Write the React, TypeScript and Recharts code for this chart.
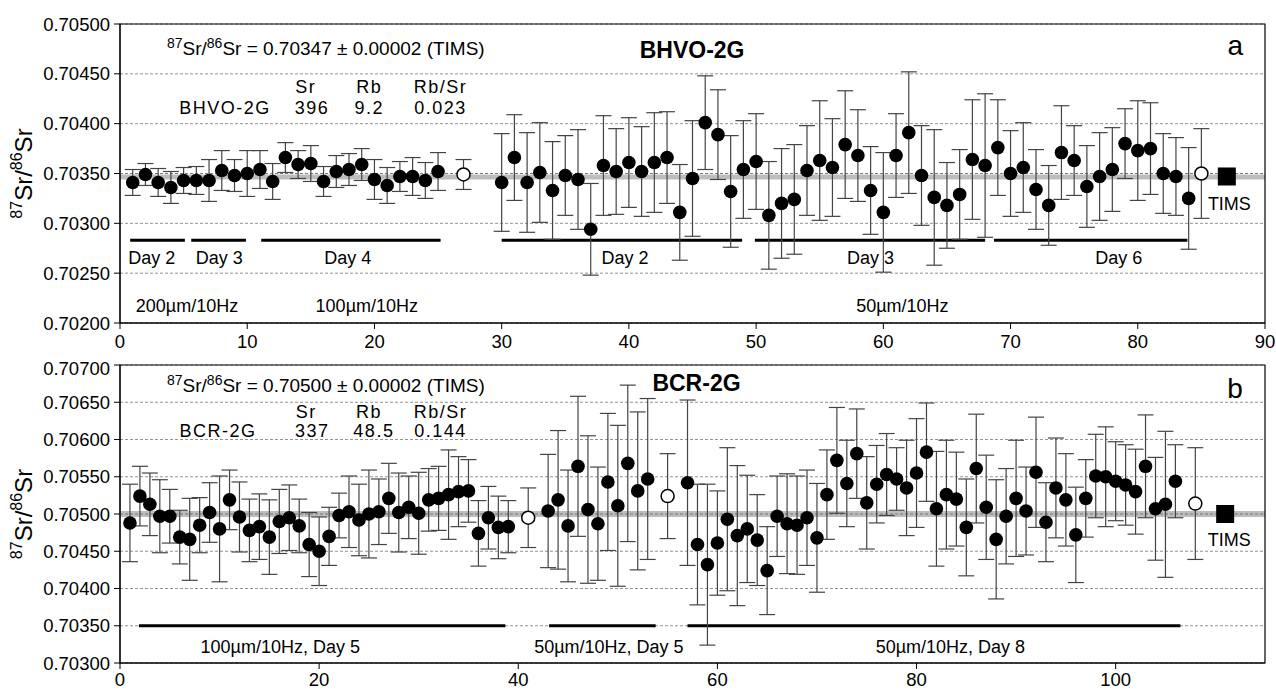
import React from 'react';
import {
  ScatterChart,
  Scatter,
  XAxis,
  YAxis,
  CartesianGrid,
  ErrorBar,
  ReferenceArea,
  ReferenceLine,
  ReferenceDot,
} from 'recharts';

// ---- panel a: BHVO-2G ----
const bhvoX = [
  1, 2, 3, 4, 5, 6, 7, 8, 9, 10, 11, 12, 13, 14, 15, 16, 17, 18, 19, 20, 21, 22, 23, 24, 25,
  30, 31, 32, 33, 34, 35, 36, 37, 38, 39, 40, 41, 42, 43, 44, 45, 46, 47, 48, 49, 50, 51, 52, 53, 54, 55, 56, 57,
  58, 59, 60, 61, 62, 63, 64, 65, 66, 67, 68, 69, 70, 71, 72, 73, 74, 75, 76, 77, 78, 79, 80, 81, 82, 83, 84,
];
const bhvoRatio = [
  0.70341, 0.70349, 0.70341, 0.70336, 0.70343, 0.70343, 0.70343, 0.70353, 0.70348, 0.7035, 0.70354, 0.70342,
  0.70366, 0.70359, 0.7036, 0.70342, 0.70352, 0.70354, 0.70359, 0.70344, 0.70338, 0.70347, 0.70347, 0.70343,
  0.70352,
  0.70341, 0.70366, 0.70341, 0.70351, 0.70333, 0.70348, 0.70344, 0.70294, 0.70358, 0.70352, 0.70361, 0.70352,
  0.70361, 0.70366, 0.70311, 0.70345, 0.70401, 0.70389, 0.70332, 0.70354, 0.70362, 0.70308, 0.7032, 0.70324,
  0.70353, 0.70363, 0.70356, 0.70379, 0.70368, 0.70333, 0.70311, 0.70368, 0.70391, 0.70348, 0.70326, 0.70318,
  0.70329, 0.70364, 0.70358, 0.70376, 0.7035, 0.70356, 0.70334, 0.70318, 0.70371, 0.70363, 0.70337, 0.70347,
  0.70354, 0.7038, 0.70373, 0.70375, 0.7035, 0.70347, 0.70325,
];
const bhvoErr = [
  0.00013, 0.00011, 0.00014, 0.00016, 0.00013, 0.00014, 0.00021, 0.0002, 0.00016, 0.00023, 0.00019, 0.00018,
  0.00015, 0.00014, 0.00018, 0.00015, 0.00016, 0.00016, 0.00016, 0.0002, 0.00018, 0.00015, 0.00019, 0.00018,
  0.00019,
  0.00049, 0.00043, 0.0005, 0.0005, 0.00049, 0.0004, 0.0005, 0.00046, 0.0005, 0.00043, 0.00045, 0.00045,
  0.0005, 0.00046, 0.00048, 0.00058, 0.00047, 0.00045, 0.00056, 0.00049, 0.00048, 0.00054, 0.00055, 0.00055,
  0.00045, 0.0006, 0.00049, 0.00054, 0.00046, 0.00044, 0.0006, 0.00042, 0.00061, 0.0005, 0.00068, 0.00043,
  0.00045, 0.0006, 0.00072, 0.00048, 0.00043, 0.00045, 0.0004, 0.0004, 0.00047, 0.00035, 0.00041, 0.00044,
  0.00042, 0.00035, 0.0005, 0.00046, 0.0004, 0.00039, 0.00051,
];
const bhvoOpenX = [27, 85];
const bhvoOpenRatio = [0.70349, 0.7035];
const bhvoOpenErr = [0.00015, 0.00045];
const bhvoTims = 0.70347;

// ---- panel b: BCR-2G ----
const bcrX = [
  1, 2, 3, 4, 5, 6, 7, 8, 9, 10, 11, 12, 13, 14, 15, 16, 17, 18, 19, 20, 21, 22, 23, 24, 25, 26, 27, 28, 29, 30,
  31, 32, 33, 34, 35, 36, 37, 38, 39,
  43, 44, 45, 46, 47, 48, 49, 50, 51, 52, 53,
  57, 58, 59, 60, 61, 62, 63, 64, 65, 66, 67, 68, 69, 70, 71, 72, 73, 74, 75, 76, 77, 78, 79, 80, 81, 82, 83,
  84, 85, 86, 87, 88, 89, 90, 91, 92, 93, 94, 95, 96, 97, 98, 99, 100, 101, 102, 103, 104, 105, 106,
];
const bcrRatio = [
  0.70488, 0.70524, 0.70513, 0.70497, 0.70497, 0.70469, 0.70466, 0.70485, 0.70502, 0.7048, 0.70519, 0.70496,
  0.70478, 0.70483, 0.70469, 0.7049, 0.70495, 0.70484, 0.70459, 0.7045, 0.7047, 0.70498, 0.70503, 0.70492,
  0.705, 0.70503, 0.70521, 0.70502, 0.70509, 0.70501, 0.70519, 0.70521, 0.70526, 0.7053, 0.70531, 0.70474,
  0.70495, 0.70482, 0.70483,
  0.70504, 0.70519, 0.70484, 0.70564, 0.70506, 0.70487, 0.70543, 0.70511, 0.70568, 0.70531, 0.70547,
  0.70542, 0.70459, 0.70432, 0.70461, 0.70493, 0.70471, 0.7048, 0.70465, 0.70424, 0.70497, 0.70487, 0.70485,
  0.70495, 0.70468, 0.70526, 0.70572, 0.70541, 0.70581, 0.70515, 0.7054, 0.70553, 0.70547, 0.70535, 0.70555,
  0.70583, 0.70507, 0.70526, 0.7052, 0.70482, 0.70561, 0.70509, 0.70466, 0.70497, 0.70521, 0.70504, 0.70556,
  0.70489, 0.70535, 0.70519, 0.70472, 0.70521, 0.70551, 0.7055, 0.70544, 0.70539, 0.7053, 0.70564, 0.70507,
  0.70513, 0.70544,
];
const bcrErr = [
  0.00052, 0.0004, 0.00042, 0.00049, 0.00036, 0.00036, 0.00055, 0.00037, 0.0004, 0.00071, 0.0004, 0.00047,
  0.00042, 0.00044, 0.0005, 0.00043, 0.00044, 0.00036, 0.00043, 0.00046, 0.00039, 0.0003, 0.00048, 0.00048,
  0.00059, 0.00044, 0.00047, 0.00053, 0.00042, 0.00055, 0.00042, 0.00043, 0.0006, 0.00047, 0.00042, 0.00044,
  0.00042, 0.00042, 0.00035,
  0.00076, 0.00093, 0.00075, 0.00094, 0.00099, 0.00076, 0.00092, 0.00108, 0.00105, 0.00106, 0.00108,
  0.00111, 0.00081, 0.00108, 0.0007, 0.00096, 0.00094, 0.00072, 0.00061, 0.00059, 0.00054, 0.00067, 0.00066,
  0.00064, 0.00073, 0.0006, 0.00071, 0.00058, 0.0006, 0.00062, 0.00052, 0.00055, 0.00042, 0.00064, 0.00073,
  0.00066, 0.00077, 0.00073, 0.00063, 0.00065, 0.00073, 0.0007, 0.0008, 0.00064, 0.00078, 0.00059, 0.00074,
  0.00053, 0.00067, 0.00062, 0.00064, 0.00052, 0.00056, 0.00067, 0.00053, 0.00054, 0.00057, 0.00069, 0.00069,
  0.00098, 0.00049,
];
const bcrOpenX = [41, 55, 108];
const bcrOpenRatio = [0.70495, 0.70524, 0.70514];
const bcrOpenErr = [0.0004, 0.00057, 0.00075];
const bcrTims = 0.705;

// ---- axes ----
const topXTicks = [0, 10, 20, 30, 40, 50, 60, 70, 80, 90];
const topYTicks = [0.702, 0.7025, 0.703, 0.7035, 0.704, 0.7045, 0.705];
const botXTicks = [0, 20, 40, 60, 80, 100];
const botYTicks = [0.703, 0.7035, 0.704, 0.7045, 0.705, 0.7055, 0.706, 0.7065, 0.707];

// ---- session bars: [start, end, label] ----
const topSessions: [number, number, string][] = [
  [0.8, 5.1, 'Day 2'],
  [5.6, 9.9, 'Day 3'],
  [11.1, 25.2, 'Day 4'],
  [30, 48.9, 'Day 2'],
  [49.9, 68, 'Day 3'],
  [68.7, 83.9, 'Day 6'],
];
const botSessions: [number, number, string][] = [
  [1.9, 38.7, '100µm/10Hz, Day 5'],
  [43.1, 53.8, '50µm/10Hz, Day 5'],
  [57, 106.5, '50µm/10Hz, Day 8'],
];
const topLaser = ['200µm/10Hz', '100µm/10Hz', '50µm/10Hz'];

const FONT = '"Liberation Sans", Arial, Helvetica, sans-serif';

const toPts = (xs: number[], ys: number[], es: number[]) =>
  xs.map((x, i) => ({ x, y: ys[i], err: es[i] }));

const Filled = (p: any) => <circle cx={p.cx} cy={p.cy} r={6.8} fill="#000" />;
const Open = (p: any) => <circle cx={p.cx} cy={p.cy} r={6.5} fill="#fff" stroke="#000" strokeWidth={1.5} />;
const Square = (p: any) => <rect x={p.cx - 9} y={p.cy - 9} width={18} height={18} fill="#000" />;

const textLabel =
  (text: string, size = 18, anchor: 'start' | 'middle' = 'middle', weight = 'normal', spacing = 0) =>
  (props: any) => {
    const vb = props.viewBox || {};
    const cx = (vb.x ?? 0) + (vb.width ?? 0) / 2;
    const cy = (vb.y ?? 0) + (vb.height ?? 0) / 2;
    return (
      <text
        x={cx}
        y={cy + size * 0.36}
        textAnchor={anchor}
        fontSize={size}
        fontWeight={weight}
        fontFamily={FONT}
        letterSpacing={spacing}
        fill="#000"
      >
        {text}
      </text>
    );
  };

// table cells are slightly letter-spaced in the original
const cell = (text: string) => textLabel(text, 18, 'middle', 'normal', 1.5);

const formulaLabel = (value: string) => (props: any) => {
  const vb = props.viewBox || {};
  const cx = (vb.x ?? 0) + (vb.width ?? 0) / 2;
  const cy = (vb.y ?? 0) + (vb.height ?? 0) / 2;
  return (
    <text x={cx} y={cy + 7} fontSize={19} fontFamily={FONT} fill="#000">
      <tspan fontSize={14} dy={-7}>87</tspan>
      <tspan dy={7}>Sr/</tspan>
      <tspan fontSize={14} dy={-7}>86</tspan>
      <tspan dy={7}>{`Sr = ${value} ± 0.00002 (TIMS)`}</tspan>
    </text>
  );
};

const yLabel = (props: any) => {
  const vb = props.viewBox || {};
  const x = 32;
  const y = (vb.y ?? 0) + (vb.height ?? 0) / 2;
  return (
    <text x={x} y={y} transform={`rotate(-90 ${x} ${y})`} textAnchor="middle" fontSize={24} fontFamily={FONT} fill="#000">
      <tspan fontSize={16} dy={-10}>87</tspan>
      <tspan dy={10}>Sr/</tspan>
      <tspan fontSize={16} dy={-10}>86</tspan>
      <tspan dy={10}>Sr</tspan>
    </text>
  );
};

const tickStyle = { fill: '#000', fontSize: 18.5, fontFamily: FONT };

const note = (x: number, y: number, content: any, key: string) => (
  <ReferenceDot key={key} x={x} y={y} r={1} fill="none" stroke="none" label={content} />
);

const BHVOPanel = () => {
  const solid = toPts(bhvoX, bhvoRatio, bhvoErr);
  const open = toPts(bhvoOpenX, bhvoOpenRatio, bhvoOpenErr);
  const tims = [{ x: 87, y: bhvoTims }];
  const barY = 0.70283;
  const dayLabelY = 0.702662;
  const mids = [2.5, 7.8, 17.9, 39.7, 59, 78.5];
  return (
    <ScatterChart width={1276} height={358} margin={{ top: 24, right: 11, bottom: 0, left: 0 }}>
      <CartesianGrid horizontal vertical={false} stroke="#777" strokeDasharray="3 2" strokeWidth={0.8} />
      <XAxis
        type="number"
        dataKey="x"
        domain={[0, 90]}
        ticks={topXTicks}
        allowDataOverflow
        height={35}
        tick={tickStyle}
        tickSize={6}
        tickMargin={6}
        stroke="#000"
      />
      <YAxis
        type="number"
        dataKey="y"
        domain={[0.702, 0.705]}
        ticks={topYTicks}
        allowDataOverflow
        width={120}
        tick={tickStyle}
        tickSize={6}
        tickMargin={4}
        tickFormatter={(v: number) => v.toFixed(5)}
        stroke="#000"
        label={yLabel}
      />
      <ReferenceArea y1={0.70344} y2={0.70349} fill="#bdbdbd" fillOpacity={1} stroke="none" />
      <ReferenceLine y={0.7035} stroke="#777" strokeDasharray="3 2" strokeWidth={0.8} />
      {topSessions.map(([a, b], i) => (
        <ReferenceLine key={'s' + i} segment={[{ x: a, y: barY }, { x: b, y: barY }]} stroke="#000" strokeWidth={3} />
      ))}
      <ReferenceArea x1={0} x2={90} y1={0.702} y2={0.705} fill="none" stroke="#000" strokeWidth={1.2} />
      <Scatter data={solid} shape={Filled} isAnimationActive={false}>
        <ErrorBar dataKey="err" direction="y" width={8} stroke="#444" strokeWidth={1.2} />
      </Scatter>
      <Scatter data={open} shape={Open} isAnimationActive={false}>
        <ErrorBar dataKey="err" direction="y" width={8} stroke="#444" strokeWidth={1.2} />
      </Scatter>
      <Scatter data={tims} shape={Square} isAnimationActive={false} />
      {topSessions.map(([, , t], i) => note(mids[i], dayLabelY, textLabel(t), 'd' + i))}
      {note(5.27, 0.70218, textLabel(topLaser[0]), 'l0')}
      {note(19.4, 0.70218, textLabel(topLaser[1]), 'l1')}
      {note(61.5, 0.70218, textLabel(topLaser[2]), 'l2')}
      {note(3.69, 0.70476, formulaLabel('0.70347'), 'f')}
      {note(44.97, 0.70474, textLabel('BHVO-2G', 23, 'middle', 'bold'), 't')}
      {note(87.66, 0.70479, textLabel('a', 28), 'p')}
      {note(14.6, 0.704368, cell('Sr'), 'h1')}
      {note(19.6, 0.704368, cell('Rb'), 'h2')}
      {note(25.2, 0.704368, cell('Rb/Sr'), 'h3')}
      {note(8.25, 0.704167, cell('BHVO-2G'), 'r0')}
      {note(15.1, 0.704167, cell('396'), 'r1')}
      {note(19.6, 0.704167, cell('9.2'), 'r2')}
      {note(25.2, 0.704167, cell('0.023'), 'r3')}
      {note(87.2, 0.703194, textLabel('TIMS', 18), 'tm')}
    </ScatterChart>
  );
};

const BCRPanel = () => {
  const solid = toPts(bcrX, bcrRatio, bcrErr);
  const open = toPts(bcrOpenX, bcrOpenRatio, bcrOpenErr);
  const tims = [{ x: 111, y: bcrTims }];
  const barY = 0.7035;
  const labelY = 0.703219;
  const mids = [16.1, 49.1, 83.4];
  return (
    <ScatterChart width={1276} height={336} margin={{ top: 7, right: 11, bottom: 0, left: 0 }}>
      <CartesianGrid horizontal vertical={false} stroke="#777" strokeDasharray="3 2" strokeWidth={0.8} />
      <XAxis
        type="number"
        dataKey="x"
        domain={[0, 115]}
        ticks={botXTicks}
        allowDataOverflow
        height={31}
        tick={tickStyle}
        tickSize={6}
        tickMargin={4}
        stroke="#000"
      />
      <YAxis
        type="number"
        dataKey="y"
        domain={[0.703, 0.707]}
        ticks={botYTicks}
        allowDataOverflow
        width={120}
        tick={tickStyle}
        tickSize={6}
        tickMargin={4}
        tickFormatter={(v: number) => v.toFixed(5)}
        stroke="#000"
        label={yLabel}
      />
      <ReferenceArea y1={0.70496} y2={0.70504} fill="#bdbdbd" fillOpacity={1} stroke="none" />
      <ReferenceLine y={0.705} stroke="#666" strokeDasharray="3 2" strokeWidth={0.8} />
      {botSessions.map(([a, b], i) => (
        <ReferenceLine key={'s' + i} segment={[{ x: a, y: barY }, { x: b, y: barY }]} stroke="#000" strokeWidth={3} />
      ))}
      <ReferenceArea x1={0} x2={115} y1={0.703} y2={0.707} fill="none" stroke="#000" strokeWidth={1.2} />
      <Scatter data={solid} shape={Filled} isAnimationActive={false}>
        <ErrorBar dataKey="err" direction="y" width={8} stroke="#444" strokeWidth={1.2} />
      </Scatter>
      <Scatter data={open} shape={Open} isAnimationActive={false}>
        <ErrorBar dataKey="err" direction="y" width={8} stroke="#444" strokeWidth={1.2} />
      </Scatter>
      <Scatter data={tims} shape={Square} isAnimationActive={false} />
      {botSessions.map(([, , t], i) => note(mids[i], labelY, textLabel(t), 'd' + i))}
      {note(4.72, 0.70673, formulaLabel('0.70500'), 'f')}
      {note(57.9, 0.70676, textLabel('BCR-2G', 23, 'middle', 'bold'), 't')}
      {note(112.0, 0.70669, textLabel('b', 28), 'p')}
      {note(18.7, 0.70637, cell('Sr'), 'h1')}
      {note(25.0, 0.70637, cell('Rb'), 'h2')}
      {note(32.2, 0.70637, cell('Rb/Sr'), 'h3')}
      {note(9.85, 0.706115, cell('BCR-2G'), 'r0')}
      {note(19.3, 0.706115, cell('337'), 'r1')}
      {note(25.5, 0.706115, cell('48.5'), 'r2')}
      {note(32.2, 0.706115, cell('0.144'), 'r3')}
      {note(111.4, 0.70466, textLabel('TIMS', 18), 'tm')}
    </ScatterChart>
  );
};

export default function App() {
  return (
    <div style={{ position: 'absolute', left: 0, top: 0, width: 1276, height: 694, background: '#fff', fontFamily: FONT }}>
      <BHVOPanel />
      <BCRPanel />
    </div>
  );
}
